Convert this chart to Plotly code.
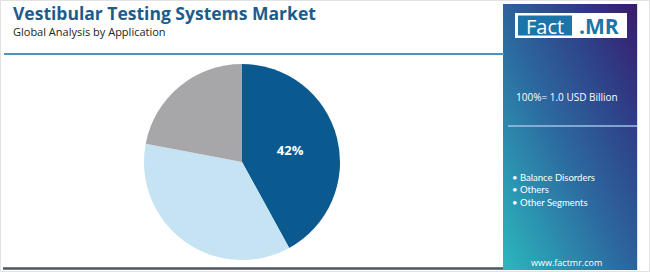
import base64
import plotly.graph_objects as go

W, H = 650, 272

# ---- data ----
segments = ["Balance Disorders", "Others", "Other Segments"]
shares = [42, 36, 22]
slice_labels = ["42%", "", ""]
colors = ["#0b5a8f", "#c6e3f4", "#a7a7a9"]

title = "Vestibular Testing Systems Market"
subtitle = "Global Analysis by Application"
market_size = "100%= 1.0 USD Billion"
website = "www.factmr.com"


def px(x):
    return x / W


def py(y):
    return 1 - y / H


fig = go.Figure()

fig.add_trace(go.Pie(
    labels=segments,
    values=shares,
    text=slice_labels,
    textinfo="text",
    textposition="inside",
    insidetextorientation="horizontal",
    textfont=dict(family="Open Sans", size=13, color="white", weight="bold"),
    marker=dict(colors=colors, line=dict(width=0)),
    sort=False,
    direction="clockwise",
    rotation=0,
    showlegend=False,
    hoverinfo="label+percent",
    domain=dict(x=[px(144), px(340)], y=[py(260), py(64)]),
))

# gradient panel via SVG data URI
svg = (
    '<svg xmlns="http://www.w3.org/2000/svg" width="134" height="266" '
    'viewBox="0 0 134 266" preserveAspectRatio="none">'
    '<defs><linearGradient id="g" x1="0" y1="1" x2="1" y2="0">'
    '<stop offset="0" stop-color="#2cb8be"/>'
    '<stop offset="0.45" stop-color="#2c6aa0"/>'
    '<stop offset="0.75" stop-color="#2f3f88"/>'
    '<stop offset="1" stop-color="#3a1a6c"/>'
    '</linearGradient></defs>'
    '<rect x="0" y="0" width="134" height="266" fill="url(#g)"/></svg>'
)
src = "data:image/svg+xml;base64," + base64.b64encode(svg.encode()).decode()

shapes = [
    # outer frame
    dict(type="rect", xref="paper", yref="paper", x0=px(0.5), x1=px(649.5),
         y0=py(271.5), y1=py(0.5), line=dict(color="#e2e2e2", width=1), layer="below"),
    # header rule
    dict(type="line", xref="paper", yref="paper", x0=px(4), x1=px(504),
         y0=py(54), y1=py(54), line=dict(color="#4f93b8", width=2)),
    # bottom rule
    dict(type="line", xref="paper", yref="paper", x0=px(3), x1=px(503),
         y0=py(268.5), y1=py(268.5), line=dict(color="#4d5464", width=2.5)),
    # logo white box
    dict(type="rect", xref="paper", yref="paper", x0=px(515), x1=px(627),
         y0=py(38), y1=py(13), fillcolor="white", line=dict(width=0)),
    # logo blue box
    dict(type="rect", xref="paper", yref="paper", x0=px(518), x1=px(572),
         y0=py(35.5), y1=py(15.5), fillcolor="#1b75a8", line=dict(width=0)),
    # panel separator
    dict(type="line", xref="paper", yref="paper", x0=px(508), x1=px(637),
         y0=py(126), y1=py(126), line=dict(color="#9fc2e4", width=1.5)),
    # panel right thin edge
    dict(type="line", xref="paper", yref="paper", x0=px(637.5), x1=px(637.5),
         y0=py(270), y1=py(4), line=dict(color="#cfe6f5", width=1)),
]

annotations = [
    dict(text=f"<b>{title}</b>", x=px(11), y=py(13), xanchor="left", yanchor="middle",
         font=dict(family="Open Sans", size=17.5, color="#1c5c8c")),
    dict(text=subtitle, x=px(11), y=py(31), xanchor="left", yanchor="middle",
         font=dict(family="Open Sans", size=11, color="#222222")),
    dict(text="Fact", x=px(545), y=py(26), xanchor="center", yanchor="middle",
         font=dict(family="Open Sans", size=20, color="white")),
    dict(text="<b>.MR</b>", x=px(599), y=py(26), xanchor="center", yanchor="middle",
         font=dict(family="Open Sans", size=21, color="#1b75a8")),
    dict(text=market_size, x=px(567), y=py(97), xanchor="center", yanchor="middle",
         font=dict(family="Open Sans", size=10, color="white")),
    dict(text=website, x=px(566), y=py(262), xanchor="center", yanchor="middle",
         font=dict(family="Open Sans", size=9, color="white")),
]
legend_y = [177, 189, 202]
for name, yy in zip(segments, legend_y):
    annotations.append(dict(text="• " + name, x=px(510), y=py(yy), xanchor="left",
                            yanchor="middle",
                            font=dict(family="Lato", size=9.5, color="white")))
for a in annotations:
    a.update(xref="paper", yref="paper", showarrow=False)

fig.update_layout(
    width=W, height=H,
    margin=dict(l=0, r=0, t=0, b=0),
    paper_bgcolor="white",
    plot_bgcolor="white",
    shapes=shapes,
    annotations=annotations,
    images=[dict(source=src, xref="paper", yref="paper", x=px(503), y=py(4),
                 sizex=px(134), sizey=266 / H, sizing="stretch",
                 xanchor="left", yanchor="top", layer="below")],
)

fig.write_html("out.html")
